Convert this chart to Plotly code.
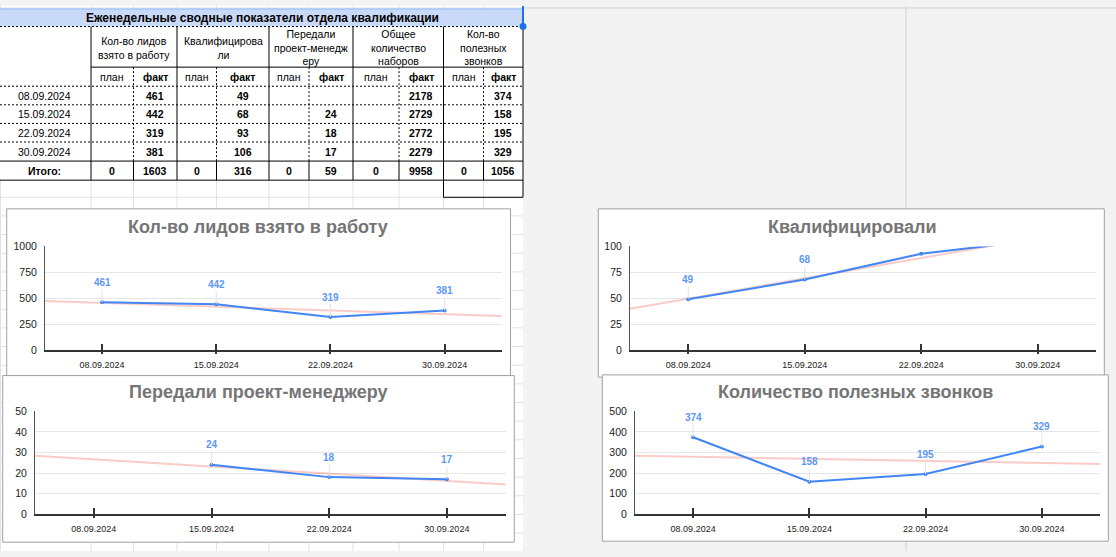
import numpy as np
import plotly.graph_objects as go

W, H = 1116, 557

# ---------------- data ----------------
dates = ["08.09.2024", "15.09.2024", "22.09.2024", "30.09.2024"]
leads_fact = [461, 442, 319, 381]
qualified_fact = [49, 68, 93, 106]
to_pm_fact = [None, 24, 18, 17]
dials_fact = [2178, 2729, 2772, 2279]
useful_calls_fact = [374, 158, 195, 329]
leads_plan = [None, None, None, None]
qualified_plan = [None, None, None, None]
to_pm_plan = [None, None, None, None]
dials_plan = [None, None, None, None]
useful_calls_plan = [None, None, None, None]

table_title = "Еженедельные сводные показатели отдела квалификации"
metric_headers = ["Кол-во лидов<br>взято в работу", "Квалифицирова<br>ли",
                  "Передали<br>проект-менедж<br>еру", "Общее<br>количество<br>наборов",
                  "Кол-во<br>полезных<br>звонков"]
sub_headers = ["план", "факт"]
total_label = "Итого:"

chart_titles = ["Кол-во лидов взято в работу", "Квалифицировали",
                "Передали проект-менеджеру", "Количество полезных звонков"]
chart_values = [leads_fact, qualified_fact, to_pm_fact, useful_calls_fact]
chart_yticks = [[0, 250, 500, 750, 1000], [0, 25, 50, 75, 100],
                [0, 10, 20, 30, 40, 50], [0, 100, 200, 300, 400, 500]]

# ---------------- layout geometry (pixels) ----------------
FONT = "Liberation Sans, Arial, sans-serif"
BLUE = "#4285f4"
LABEL_BLUE = "#5e97f6"
GRID = "#e2e2e2"

charts_geom = [
    dict(frame=(6.7, 207.3, 510.5, 377.7), plot=(45, 245.7, 501.7, 351.7), title=(258, 225.5)),
    dict(frame=(598.3, 207.3, 1104.3, 379.3), plot=(630, 245.7, 1096, 351.7), title=(852, 225.5)),
    dict(frame=(2.7, 377.7, 514.3, 548), plot=(35, 414.3, 505.7, 519.3), title=(258, 394.5)),
    dict(frame=(602.3, 377, 1108.3, 547), plot=(635, 414.3, 1100, 519.3), title=(855, 394.5)),
]

COLS = [0, 91, 133.5, 177, 216.5, 269, 309, 353, 399, 443.5, 483.5, 523]
TITLE_ROW = (3, 21)
HEAD_ROW = (21, 62.5)
SUB_ROW = (62.5, 82)
DATA_ROWS = [82, 101, 120, 139, 158.5]
TOTAL_ROW = (158.5, 178)


def X(px):
    return px / W


def Y(py):
    return 1 - py / H


shapes = []


def line(x0, y0, x1, y1, color, width=1, dash=None, layer="below"):
    d = dict(type="line", xref="paper", yref="paper", x0=X(x0), y0=Y(y0), x1=X(x1), y1=Y(y1),
             line=dict(color=color, width=width), layer=layer)
    if dash:
        d["line"]["dash"] = dash
    shapes.append(d)


def rect(x0, y0, x1, y1, fill, lcolor=None, lwidth=0, layer="below"):
    shapes.append(dict(type="rect", xref="paper", yref="paper", x0=X(x0), y0=Y(y0), x1=X(x1), y1=Y(y1),
                       fillcolor=fill, line=dict(color=lcolor or fill, width=lwidth), layer=layer))


# spreadsheet background
rect(0, 0, 523, H, "#ffffff")
for cx in COLS[1:-1]:
    line(cx, 0, cx, H, GRID)
line(0.5, 0, 0.5, H, GRID)
line(0, 2, 523, 2, GRID)
r = 195.5
while r < H:
    line(0, r, 523, r, GRID)
    r += 19.07
line(906, 0, 906, H, "#d3d3d3")
line(523, 2, W, 2, "#d3d3d3")

# table area
rect(0, 3, 523, 178, "#ffffff")
rect(0, TITLE_ROW[0], 523, TITLE_ROW[1], "#c9daf8")
line(0, TITLE_ROW[0], 523, TITLE_ROW[0], "#8ab4f8", 1)
line(523, 0, 523, TITLE_ROW[1], "#1a73e8", 2)

DOT = "2px,2px"
K = "#000000"
line(0, 21, 523, 21, K, 1, DOT)
for cx in [91, 177, 269, 353, 443.5, 523]:
    line(cx, 21, cx, 178, K, 1)
line(91, 62.5, 523, 62.5, K, 1)
line(0, 82, 523, 82, K, 1, DOT)
for cx in [133.5, 216.5, 309, 399, 483.5]:
    line(cx, 62.5, cx, 158.5, K, 1, DOT)
    line(cx, 158.5, cx, 178, K, 1)
for ry in DATA_ROWS[1:-1]:
    line(0, ry, 523, ry, K, 1, DOT)
line(0, 158.5, 523, 158.5, K, 1)
line(0, 178, 523, 178, K, 1)
line(443.5, 178, 443.5, 195.5, K, 1)
line(443.5, 195.5, 523, 195.5, K, 1)
line(523, 178, 523, 195.5, K, 1)
shapes.append(dict(type="circle", xref="paper", yref="paper", x0=X(519.5), y0=Y(17.5), x1=X(526.5), y1=Y(24.5),
                   fillcolor="#1a73e8", line=dict(color="#1a73e8", width=0), layer="above"))

# chart frames
for g in charts_geom:
    fx0, fy0, fx1, fy1 = g["frame"]
    rect(fx0, fy0, fx1, fy1, "#ffffff", "#a0a0a0", 1)

annotations = []


def text(px, py, s, size=10.5, bold=False, color="#000000", xanchor="center"):
    annotations.append(dict(xref="paper", yref="paper", x=X(px), y=Y(py), text=s, showarrow=False,
                            xanchor=xanchor, yanchor="middle",
                            font=dict(family=FONT, size=size, color=color, weight="bold" if bold else "normal")))


# table texts
text(262, (TITLE_ROW[0] + TITLE_ROW[1]) / 2 + 0.5, table_title, size=12, bold=True)
facts = [leads_fact, qualified_fact, to_pm_fact, dials_fact, useful_calls_fact]
plans = [leads_plan, qualified_plan, to_pm_plan, dials_plan, useful_calls_plan]
for i, hdr in enumerate(metric_headers):
    x_l, x_m, x_r = COLS[1 + 2 * i], COLS[2 + 2 * i], COLS[3 + 2 * i]
    text((x_l + x_r) / 2, 42.5, hdr, size=10.5)
    text((x_l + x_m) / 2, sum(SUB_ROW) / 2, sub_headers[0], size=10.5)
    text((x_m + x_r) / 2, sum(SUB_ROW) / 2, sub_headers[1], size=10.5, bold=True)
    for j in range(len(dates)):
        cy = (DATA_ROWS[j] + DATA_ROWS[j + 1]) / 2
        if plans[i][j] is not None:
            text((x_l + x_m) / 2, cy, str(plans[i][j]), bold=True)
        if facts[i][j] is not None:
            text((x_m + x_r) / 2, cy, str(facts[i][j]), bold=True)
    ty = sum(TOTAL_ROW) / 2
    text((x_l + x_m) / 2, ty, str(sum(v or 0 for v in plans[i])), bold=True)
    text((x_m + x_r) / 2, ty, str(sum(v or 0 for v in facts[i])), bold=True)
for j, d in enumerate(dates):
    text(44, (DATA_ROWS[j] + DATA_ROWS[j + 1]) / 2, d)
text(44, sum(TOTAL_ROW) / 2, total_label, bold=True)

# charts
fig = go.Figure()
layout_axes = {}
xs = list(range(len(dates)))
xr = [-0.5, len(dates) - 0.5]
for k, (title, vals, yt, g) in enumerate(zip(chart_titles, chart_values, chart_yticks, charts_geom), start=1):
    n = "" if k == 1 else str(k)
    px0, py0, px1, py1 = g["plot"]
    plot_h = py1 - py0
    ymax = yt[-1]
    pts = [(i, v) for i, v in zip(xs, vals) if v is not None]
    slope, icpt = np.polyfit([p[0] for p in pts], [p[1] for p in pts], 1)
    fig.add_trace(go.Scatter(x=xr, y=[slope * x + icpt for x in xr], mode="lines",
                             line=dict(color="rgba(234,67,53,0.27)", width=2),
                             xaxis="x" + n, yaxis="y" + n, hoverinfo="skip", showlegend=False))
    fig.add_trace(go.Scatter(x=xs, y=vals, mode="lines+markers", line=dict(color=BLUE, width=2),
                             marker=dict(size=4, color=BLUE), connectgaps=False,
                             xaxis="x" + n, yaxis="y" + n, showlegend=False))
    fig.add_trace(go.Scatter(x=xs, y=[None] * len(xs), mode="lines", xaxis="x" + str(k + 4), yaxis="y" + n,
                             hoverinfo="skip", showlegend=False))
    layout_axes["xaxis" + n] = dict(domain=[X(px0), X(px1)], anchor="y" + n, range=xr, tickvals=xs,
                                    ticktext=dates, ticks="inside", ticklen=6, tickwidth=1.5, tickcolor="#333",
                                    showline=True, linecolor="#333", linewidth=1.5, showgrid=False,
                                    zeroline=False, tickfont=dict(family=FONT, size=9, color="#222"),
                                    ticklabelstandoff=5, fixedrange=True)
    layout_axes["yaxis" + n] = dict(domain=[Y(py1), Y(py0)], anchor="x" + n, range=[0, ymax], tickvals=yt,
                                    showline=True, linecolor="#555", linewidth=1, showgrid=True,
                                    gridcolor="#e6e6e6", gridwidth=1.3, zeroline=False, ticks="",
                                    tickfont=dict(family=FONT, size=10.5, color="#222"),
                                    ticklabelstandoff=5, fixedrange=True)
    layout_axes["xaxis" + str(k + 4)] = dict(overlaying="x" + n, anchor="y" + n, range=xr, tickvals=xs,
                                             ticks="outside", ticklen=3, tickwidth=1.5, tickcolor="#333",
                                             showticklabels=False, showline=False, showgrid=False,
                                             zeroline=False, fixedrange=True)
    tx, ty = g["title"]
    text(tx, ty, title, size=18, bold=True, color="#757575")
    for i, v in zip(xs, vals):
        if v is None or v > ymax:
            continue
        if v / ymax * plot_h + 20 > plot_h:
            continue
        annotations.append(dict(xref="x" + n, yref="y" + n, x=i, y=v, text=str(v), showarrow=True,
                                arrowhead=0, arrowwidth=1, arrowcolor="#e4e4e4", ax=0, ay=-20, standoff=0,
                                font=dict(family=FONT, size=10, color=LABEL_BLUE, weight="bold")))

fig.update_layout(width=W, height=H, margin=dict(l=0, r=0, t=0, b=0, pad=0), autosize=False,
                  paper_bgcolor="#f3f3f3", plot_bgcolor="rgba(0,0,0,0)", showlegend=False,
                  shapes=shapes, annotations=annotations, **layout_axes)

fig.write_html("out.html", config={"displayModeBar": False},
               post_script="document.body.style.margin='0';document.body.style.overflow='hidden';")
